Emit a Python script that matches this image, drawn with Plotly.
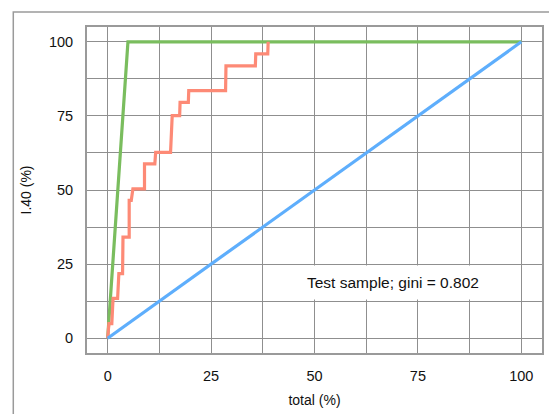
import plotly.graph_objects as go

# Data
random_x = [0, 100]
random_y = [0, 100]

perfect_x = [0, 4.9, 100]
perfect_y = [0, 100, 100]

model_x = [0, 0.3, 1.0, 1.3, 2.4, 2.7, 3.6, 3.7, 5.2, 5.2, 5.7, 6.1, 8.9, 8.9, 11.4, 11.6,
           15.2, 15.6, 17.4, 17.5, 19.5, 19.6, 28.5, 28.6, 35.7, 35.8, 38.7, 38.8]
model_y = [0, 4.9, 4.9, 13.4, 13.4, 21.8, 21.8, 34.1, 34.1, 46.5, 46.5, 50.4, 50.4, 58.8, 58.8, 62.7,
           62.7, 75.1, 75.1, 79.6, 79.6, 83.5, 83.5, 91.9, 91.9, 95.9, 95.9, 100]

tick_vals = [0, 25, 50, 75, 100]
tick_text = ["0", "25", "50", "75", "100"]

annotation_text = "Test sample; gini = 0.802"

FONT = "Liberation Sans, Arial, sans-serif"
GRID = "#8f8f8f"

fig = go.Figure()
fig.add_trace(go.Scatter(x=perfect_x, y=perfect_y, mode="lines",
                         line=dict(color="#7abd5e", width=3.2), hoverinfo="skip"))
fig.add_trace(go.Scatter(x=model_x, y=model_y, mode="lines",
                         line=dict(color="#fd8a76", width=3.2), hoverinfo="skip"))
fig.add_trace(go.Scatter(x=random_x, y=random_y, mode="lines",
                         line=dict(color="#5eaefc", width=3.2), hoverinfo="skip"))

axis_common = dict(
    range=[-5, 105],
    tickvals=tick_vals,
    ticktext=tick_text,
    showgrid=True,
    gridcolor=GRID,
    gridwidth=1,
    minor=dict(dtick=12.5, tick0=0, showgrid=True, gridcolor=GRID, gridwidth=1),
    zeroline=False,
    showline=True,
    mirror=True,
    linecolor="#9a9a9a",
    linewidth=2,
    ticks="",
    tickfont=dict(family=FONT, size=14.5, color="#111111"),
    ticklabelstandoff=9,
)

fig.update_layout(
    width=549, height=414,
    margin=dict(l=87, r=5, t=27, b=61),
    paper_bgcolor="white",
    plot_bgcolor="white",
    showlegend=False,
    xaxis=dict(axis_common, title=dict(text="total (%)", font=dict(family=FONT, size=14, color="#111111"), standoff=12)),
    yaxis=dict(axis_common, title=dict(text="I.40 (%)", font=dict(family=FONT, size=14, color="#111111"), standoff=14)),
    annotations=[dict(
        x=69, y=18.75, xref="x", yref="y", text=annotation_text, showarrow=False,
        font=dict(family=FONT, size=15.5, color="#111111"),
        bgcolor="white", borderpad=8, xanchor="center", yanchor="middle",
    )],
    shapes=[dict(
        type="rect", xref="paper", yref="paper",
        x0=-0.162, x1=1.1, y0=-0.3, y1=1.046,
        line=dict(color="#9a9a9a", width=1.5), fillcolor="rgba(0,0,0,0)", layer="below",
    )],
)

fig.write_html("out.html")
